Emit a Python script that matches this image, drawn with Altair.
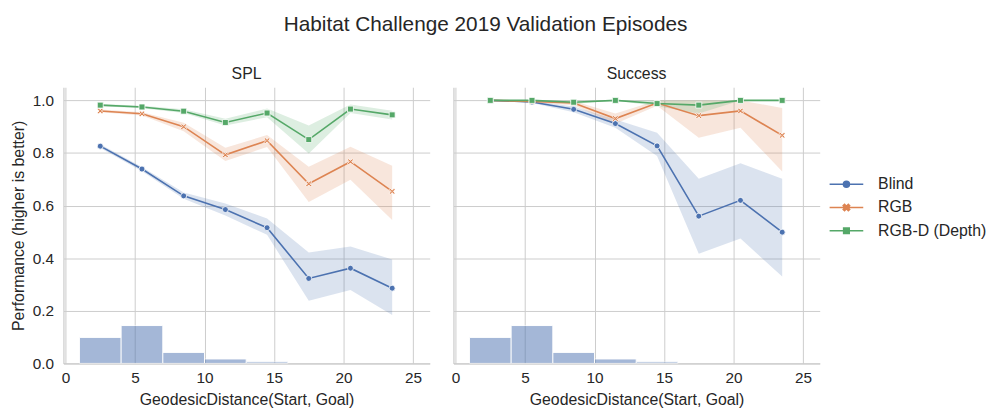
import altair as alt
import pandas as pd

# ---------------- data ----------------
models = ["Blind", "RGB", "RGB-D (Depth)"]
colors = ["#4c72b0", "#dd8452", "#55a868"]
distance = [2.5, 5.5, 8.5, 11.5, 14.5, 17.5, 20.5, 23.5]

# SPL panel
spl_blind = [0.826, 0.739, 0.637, 0.585, 0.516, 0.323, 0.362, 0.286]
spl_blind_lo = [0.819, 0.731, 0.626, 0.562, 0.489, 0.238, 0.279, 0.184]
spl_blind_hi = [0.833, 0.747, 0.650, 0.608, 0.551, 0.422, 0.445, 0.395]
spl_rgb = [0.960, 0.949, 0.900, 0.793, 0.847, 0.683, 0.767, 0.654]
spl_rgb_lo = [0.955, 0.943, 0.883, 0.770, 0.823, 0.614, 0.698, 0.545]
spl_rgb_hi = [0.965, 0.955, 0.915, 0.820, 0.868, 0.748, 0.824, 0.752]
spl_rgbd = [0.982, 0.975, 0.959, 0.916, 0.952, 0.851, 0.967, 0.945]
spl_rgbd_lo = [0.978, 0.970, 0.952, 0.905, 0.936, 0.798, 0.952, 0.927]
spl_rgbd_hi = [0.986, 0.980, 0.966, 0.930, 0.969, 0.905, 0.984, 0.961]

# Success panel
suc_blind = [1.000, 0.994, 0.966, 0.912, 0.827, 0.560, 0.620, 0.499]
suc_blind_lo = [1.000, 0.990, 0.955, 0.896, 0.789, 0.417, 0.475, 0.330]
suc_blind_hi = [1.000, 0.998, 0.977, 0.927, 0.877, 0.702, 0.761, 0.702]
suc_rgb = [1.000, 0.996, 0.990, 0.931, 0.990, 0.942, 0.960, 0.867]
suc_rgb_lo = [1.000, 0.992, 0.982, 0.911, 0.980, 0.858, 0.896, 0.730]
suc_rgb_hi = [1.000, 1.000, 0.998, 0.950, 1.000, 1.000, 1.000, 0.971]
suc_rgbd = [1.000, 1.000, 0.993, 1.000, 0.988, 0.982, 1.000, 1.000]
suc_rgbd_lo = [1.000, 1.000, 0.986, 1.000, 0.978, 0.950, 1.000, 1.000]
suc_rgbd_hi = [1.000, 1.000, 1.000, 1.000, 1.000, 1.000, 1.000, 1.000]

# histogram of episode distances (normalised)
hist_start = [1, 4, 7, 10, 13]
hist_end = [4, 7, 10, 13, 16]
hist_height = [0.099, 0.144, 0.042, 0.017, 0.006]

x_ticks = [0, 5, 10, 15, 20, 25]
y_ticks = [0.0, 0.2, 0.4, 0.6, 0.8, 1.0]

# ---------------- tables ----------------
series = {
    "SPL": [(spl_blind, spl_blind_lo, spl_blind_hi),
            (spl_rgb, spl_rgb_lo, spl_rgb_hi),
            (spl_rgbd, spl_rgbd_lo, spl_rgbd_hi)],
    "Success": [(suc_blind, suc_blind_lo, suc_blind_hi),
                (suc_rgb, suc_rgb_lo, suc_rgb_hi),
                (suc_rgbd, suc_rgbd_lo, suc_rgbd_hi)],
}
rows = []
for metric, lst in series.items():
    for m, (mean, lo, hi) in zip(models, lst):
        for d, v, l, h in zip(distance, mean, lo, hi):
            rows.append({"metric": metric, "model": m, "distance": d,
                         "value": v, "lo": l, "hi": h})
df = pd.DataFrame(rows)
hist_df = pd.DataFrame({"start": hist_start, "end": hist_end, "height": hist_height})
legend_df = pd.DataFrame({"model": models})

FONT = "Liberation Sans"
TXT = "#262626"
GRID = "#cccccc"

xscale = alt.Scale(domain=[-0.15, 26.2], nice=False, zero=False)
yscale = alt.Scale(domain=[0, 1.05], nice=False)
color_scale = alt.Scale(domain=models, range=colors)

marker_paths = [
    "circle",
    "M-1,-0.6L-0.6,-1L0,-0.4L0.6,-1L1,-0.6L0.4,0L1,0.6L0.6,1L0,0.4L-0.6,1L-1,0.6L-0.4,0Z",
    "square",
]
legend_paths = [
    "M-1.7,0H1.7M0.3,0A0.3,0.3,0,1,1,-0.3,0A0.3,0.3,0,1,1,0.3,0Z",
    "M-1.7,0H1.7M-0.32,-0.19L-0.19,-0.32L0,-0.13L0.19,-0.32L0.32,-0.19L0.13,0L0.32,0.19L0.19,0.32L0,0.13L-0.19,0.32L-0.32,0.19L-0.13,0Z",
    "M-1.7,0H1.7M-0.28,-0.28H0.28V0.28H-0.28Z",
]

PW, PH = 370, 279


def panel(metric, first):
    d = df[df.metric == metric]
    xaxis = alt.Axis(values=x_ticks, title="GeodesicDistance(Start, Goal)",
                     grid=True, tickSize=0, labelPadding=7, titlePadding=6)
    if first:
        yaxis = alt.Axis(values=y_ticks, format=".1f",
                         title="Performance (higher is better)",
                         grid=True, tickSize=0, labelPadding=10, titlePadding=6)
    else:
        yaxis = alt.Axis(values=y_ticks, labels=False, title=None,
                         grid=True, tickSize=0)
    X = lambda f: alt.X(f, scale=xscale, axis=xaxis)

    bars = alt.Chart(hist_df).mark_rect(
        color="#4c72b0", opacity=0.5, stroke="white", strokeWidth=1
    ).encode(
        x=X("start:Q"), x2="end:Q",
        y=alt.Y("height:Q", scale=yscale, axis=yaxis), y2=alt.Y2(datum=0),
    )
    band = alt.Chart(d).mark_area(opacity=0.2).encode(
        x=X("distance:Q"),
        y=alt.Y("lo:Q", scale=yscale, axis=yaxis), y2="hi:Q",
        color=alt.Color("model:N", scale=color_scale, legend=None),
    )
    line = alt.Chart(d).mark_line(strokeWidth=1.6).encode(
        x=X("distance:Q"),
        y=alt.Y("value:Q", scale=yscale, axis=yaxis),
        color=alt.Color("model:N", scale=color_scale, legend=None),
    )
    pts = alt.Chart(d).mark_point(
        filled=True, opacity=1, size=36, stroke="white", strokeWidth=0.8
    ).encode(
        x=X("distance:Q"),
        y=alt.Y("value:Q", scale=yscale, axis=yaxis),
        color=alt.Color("model:N", scale=color_scale, legend=None),
        shape=alt.Shape("model:N", scale=alt.Scale(domain=models, range=marker_paths),
                        legend=None),
    )
    return alt.layer(bars, band, line, pts).properties(
        width=PW, height=PH, title=metric)


# legend drawn as its own small view (line + marker glyphs)
leg_y = alt.Y("model:N", scale=alt.Scale(type="point", domain=models,
                                          range=[98, 145], padding=0), axis=None)
leg_sym = alt.Chart(legend_df).mark_point(
    filled=True, opacity=1, size=400, strokeWidth=1.6
).encode(
    x=alt.value(27), y=leg_y,
    fill=alt.Fill("model:N", scale=color_scale, legend=None),
    stroke=alt.Stroke("model:N", scale=color_scale, legend=None),
    shape=alt.Shape("model:N", scale=alt.Scale(domain=models, range=legend_paths),
                    legend=None),
)
leg_txt = alt.Chart(legend_df).mark_text(
    align="left", baseline="middle", fontSize=16, color=TXT, font=FONT
).encode(x=alt.value(59), y=leg_y, text="model:N")
legend_view = alt.layer(leg_sym, leg_txt).properties(width=150, height=PH)

chart = alt.hconcat(
    alt.hconcat(panel("SPL", True), panel("Success", False), spacing=21),
    legend_view,
    spacing=0,
).resolve_scale(
    shape="independent"
).properties(
    title=alt.Title("Habitat Challenge 2019 Validation Episodes", fontSize=21,
                    anchor="middle", offset=32, dx=-13),
    padding={"left": 2, "top": 4, "right": 0, "bottom": 0},
).configure(
    font=FONT, background="white"
).configure_view(
    stroke=None
).configure_axis(
    domainColor=GRID, domainWidth=1.25, gridColor=GRID, gridWidth=1,
    labelFont=FONT, labelFontSize=15.5, labelColor=TXT,
    titleFont=FONT, titleFontSize=16, titleColor=TXT, titleFontWeight="normal",
).configure_title(
    font=FONT, fontSize=16, fontWeight="normal", color=TXT, offset=5,
)

chart.save("out.html", embed_options={"renderer": "svg", "actions": False})
